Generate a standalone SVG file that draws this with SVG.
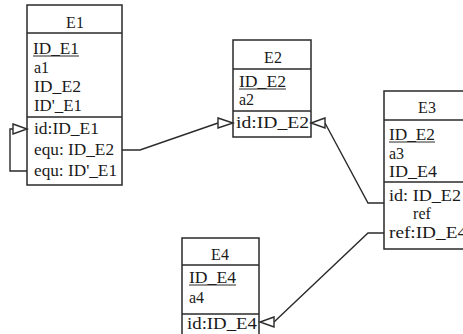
<svg xmlns="http://www.w3.org/2000/svg" width="463" height="334" viewBox="0 0 463 334">
<style>
.box{fill:#fff;stroke:#2a2a2a;stroke-width:1.5}
.sep{stroke:#2a2a2a;stroke-width:1.3}
.t{font-family:"Liberation Serif","Times New Roman",serif;font-size:16px;fill:#1a1a1a}
.c{text-anchor:middle}
.ul{stroke:#2a2a2a;stroke-width:1}
.ln{fill:none;stroke:#2a2a2a;stroke-width:1.4}
.ar{fill:#fff;stroke:#2a2a2a;stroke-width:1.4}
</style>
<rect width="463" height="334" fill="#fff"/>
<g id="E1">
<rect class="box" x="27" y="5" width="95" height="180"/>
<line class="sep" x1="27" y1="33" x2="122" y2="33"/>
<line class="sep" x1="27" y1="117" x2="122" y2="117"/>
<text class="t c" x="75" y="28">E1</text>
<text class="t" x="33" y="54" textLength="46" lengthAdjust="spacingAndGlyphs">ID_E1</text>
<line class="ul" x1="33" y1="56" x2="79" y2="56"/>
<text class="t" x="34" y="73">a1</text>
<text class="t" x="34" y="92" textLength="47" lengthAdjust="spacingAndGlyphs">ID_E2</text>
<text class="t" x="34" y="111" textLength="48" lengthAdjust="spacingAndGlyphs">ID'_E1</text>
<text class="t" x="34" y="134" textLength="65" lengthAdjust="spacingAndGlyphs">id:ID_E1</text>
<text class="t" x="34" y="155" textLength="80" lengthAdjust="spacingAndGlyphs">equ: ID_E2</text>
<text class="t" x="34" y="176" textLength="83" lengthAdjust="spacingAndGlyphs">equ: ID'_E1</text>
</g>
<g id="E2">
<rect class="box" x="233" y="40" width="78" height="97"/>
<line class="sep" x1="233" y1="69" x2="311" y2="69"/>
<line class="sep" x1="233" y1="111" x2="311" y2="111"/>
<text class="t c" x="273" y="63">E2</text>
<text class="t" x="239" y="87" textLength="47" lengthAdjust="spacingAndGlyphs">ID_E2</text>
<line class="ul" x1="239" y1="89" x2="286" y2="89"/>
<text class="t" x="239" y="105">a2</text>
<text class="t" x="236" y="128" textLength="73" lengthAdjust="spacingAndGlyphs">id:ID_E2</text>
</g>
<g id="E3">
<rect class="box" x="384" y="91" width="88" height="158"/>
<line class="sep" x1="384" y1="120" x2="472" y2="120"/>
<line class="sep" x1="384" y1="182" x2="472" y2="182"/>
<text class="t c" x="427" y="113">E3</text>
<text class="t" x="389" y="140" textLength="46" lengthAdjust="spacingAndGlyphs">ID_E2</text>
<line class="ul" x1="389" y1="142" x2="435" y2="142"/>
<text class="t" x="389" y="159">a3</text>
<text class="t" x="389" y="177" textLength="48" lengthAdjust="spacingAndGlyphs">ID_E4</text>
<text class="t" x="389" y="201" textLength="72" lengthAdjust="spacingAndGlyphs">id: ID_E2</text>
<text class="t c" x="422" y="219">ref</text>
<text class="t" x="389" y="238" textLength="78" lengthAdjust="spacingAndGlyphs">ref:ID_E4</text>
</g>
<g id="E4">
<rect class="box" x="182" y="238" width="77" height="110"/>
<line class="sep" x1="182" y1="265" x2="259" y2="265"/>
<line class="sep" x1="182" y1="314" x2="259" y2="314"/>
<text class="t c" x="220" y="260">E4</text>
<text class="t" x="189" y="283" textLength="47" lengthAdjust="spacingAndGlyphs">ID_E4</text>
<line class="ul" x1="189" y1="285" x2="236" y2="285"/>
<text class="t" x="189" y="303">a4</text>
<text class="t" x="187" y="329" textLength="70" lengthAdjust="spacingAndGlyphs">id:ID_E4</text>
</g>
<g id="connectors">
<polyline class="ln" points="27,171 10,171 10,129 13,129"/>
<polygon class="ar" points="13,124 27,129 13,134"/>
<polyline class="ln" points="122,150 140,150 218,123"/>
<polygon class="ar" points="218,118 233,123 218,128"/>
<polyline class="ln" points="384,203 368,203 325,123"/>
<polygon class="ar" points="325,118 311,123 325,128"/>
<polyline class="ln" points="384,233 368,233 274,322"/>
<polygon class="ar" points="274,317 260,322 274,327"/>
</g>
</svg>
